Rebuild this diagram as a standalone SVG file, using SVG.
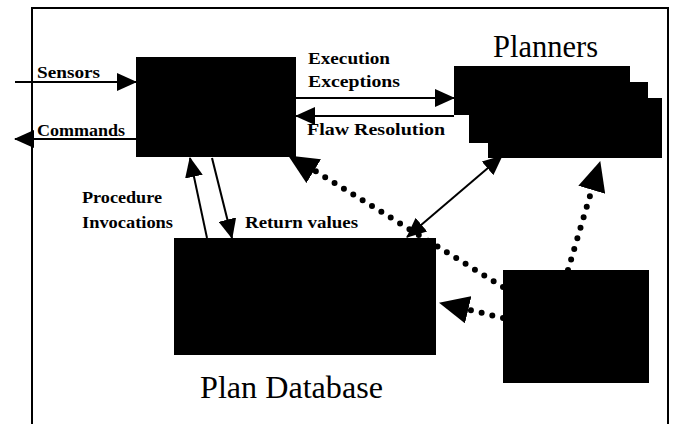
<svg xmlns="http://www.w3.org/2000/svg" width="673" height="424" viewBox="0 0 673 424">
<style>
.blk{fill:#000;stroke:none}
.frame{fill:none;stroke:#000;stroke-width:2}
.sol{fill:none;stroke:#000;stroke-width:2}
.dot{fill:none;stroke:#000;stroke-width:6;stroke-linecap:round;stroke-dasharray:0 11}
.lbl{font-family:"Liberation Serif","Times New Roman",serif;font-weight:bold;font-size:16px;fill:#000}
.big{font-family:"Liberation Serif","Times New Roman",serif;font-size:31px;fill:#000}
</style>
<defs>
<marker id="ah" markerUnits="userSpaceOnUse" markerWidth="20" markerHeight="18" refX="19" refY="9" orient="auto-start-reverse" viewBox="0 0 20 18">
<path d="M0,0 L20,9 L0,18 z" fill="#000"/>
</marker>
<marker id="dh" markerUnits="userSpaceOnUse" markerWidth="30" markerHeight="28" refX="29" refY="14" orient="auto" viewBox="0 0 30 28">
<path d="M0,0 L30,14 L0,28 z" fill="#000"/>
</marker>
</defs>
<rect x="0" y="0" width="673" height="424" fill="#fff"/>
<path class="frame" d="M32,425 L32,8 L668,8 L668,425"/>
<g id="connectors">
<line class="sol" x1="15" y1="82" x2="136" y2="82" marker-end="url(#ah)"/>
<line class="sol" x1="136" y1="139" x2="15" y2="139" marker-end="url(#ah)"/>
<line class="sol" x1="296" y1="98" x2="454" y2="98" marker-end="url(#ah)"/>
<line class="sol" x1="454" y1="116" x2="296" y2="116" marker-end="url(#ah)"/>
<line class="sol" x1="207" y1="238" x2="190" y2="158" marker-end="url(#ah)"/>
<line class="sol" x1="212" y1="158" x2="232" y2="238" marker-end="url(#ah)"/>
<line class="sol" x1="407" y1="237" x2="502" y2="156" marker-start="url(#ah)" marker-end="url(#ah)"/>
<line class="dot" x1="503" y1="287" x2="312" y2="169"/>
<line class="dot" x1="503" y1="318" x2="470" y2="310"/>
<line class="dot" x1="568" y1="270" x2="592" y2="189"/>
<line x1="503" y1="287" x2="289" y2="156" stroke="none" marker-end="url(#dh)"/>
<line x1="503" y1="318" x2="440" y2="303" stroke="none" marker-end="url(#dh)"/>
<line x1="568" y1="270" x2="600" y2="162" stroke="none" marker-end="url(#dh)"/>
</g>
<g id="executive">
<rect class="blk" x="136" y="57" width="160" height="100"/>
</g>
<g id="planners">
<path class="blk" d="M454,66 H630 V82 H648 V98 H662 V158 H488 V143 H469 V115 H454 Z"/>
<text class="big" x="493" y="57" textLength="105" lengthAdjust="spacingAndGlyphs">Planners</text>
</g>
<g id="plan-database">
<rect class="blk" x="174" y="238" width="262" height="117"/>
<text class="big" x="200" y="398" textLength="183" lengthAdjust="spacingAndGlyphs">Plan Database</text>
</g>
<g id="monitor">
<rect class="blk" x="503" y="270" width="146" height="113"/>
</g>
<g id="labels">
<text class="lbl" x="37" y="78" textLength="63" lengthAdjust="spacingAndGlyphs">Sensors</text>
<text class="lbl" x="37" y="136" textLength="88" lengthAdjust="spacingAndGlyphs">Commands</text>
<text class="lbl" x="308" y="64" textLength="82" lengthAdjust="spacingAndGlyphs">Execution</text>
<text class="lbl" x="308" y="87" textLength="92" lengthAdjust="spacingAndGlyphs">Exceptions</text>
<text class="lbl" x="307" y="135" textLength="138" lengthAdjust="spacingAndGlyphs">Flaw Resolution</text>
<text class="lbl" x="82" y="203" textLength="80" lengthAdjust="spacingAndGlyphs">Procedure</text>
<text class="lbl" x="82" y="228" textLength="91" lengthAdjust="spacingAndGlyphs">Invocations</text>
<text class="lbl" x="245" y="228" textLength="113" lengthAdjust="spacingAndGlyphs">Return values</text>
</g>
</svg>
